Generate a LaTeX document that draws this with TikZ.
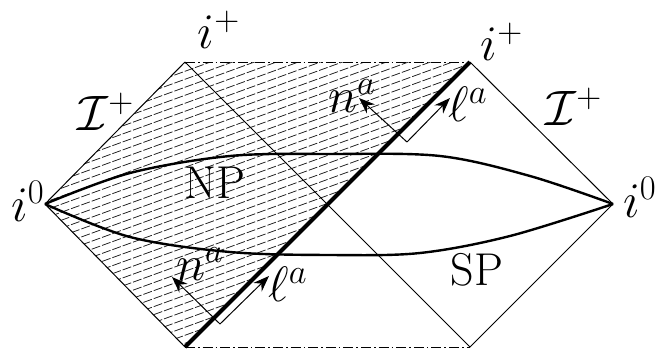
\documentclass[tikz,border=0pt]{standalone}
\usepackage{amsmath, amssymb}
\usetikzlibrary{arrows.meta, calc}

\begin{document}
\begin{tikzpicture}[x=0.5pt, y=-0.5pt,
    edge/.style={line width=0.5pt},
    horizon/.style={line width=2pt},
    slice/.style={line width=1.2pt},
    scri/.style={line width=0.5pt, dash pattern=on 5pt off 1.5pt on 0.8pt off 1.5pt},
    hatch/.style={line width=0.4pt, black!85, dash pattern=on 4.5pt off 1pt},
    vec/.style={line width=0.5pt, -{Stealth[length=8pt, width=6pt]}},
    lbl/.style={font=\fontsize{23}{27}\selectfont, inner sep=0pt}]
  \useasboundingbox (0,0) rectangle (660,349);

  % corners of the diagram
  \coordinate (L) at (45,204);
  \coordinate (R) at (613,204);
  \coordinate (TL) at (185,62);
  \coordinate (BL) at (185,347);
  \coordinate (TR) at (470,62);
  \coordinate (BR) at (470,347);

  % hatched region
  \begin{scope}
    \clip (L) -- (TL) -- (TR) -- (BL) -- cycle;
    \foreach \y in {60,68,...,620}
      \draw[hatch] (40,\y) -- (480,\y-160);
  \end{scope}

  \draw[edge] (TL) -- (L) -- (BL);
  \draw[edge] (TL) -- (BR) -- (R) -- (TR);
  \draw[horizon] (BL) -- (TR);
  \draw[scri] (TL) -- (TR);
  \draw[scri] (BL) -- (BR);

  % the two slices
  \draw[slice] plot[smooth, tension=0.55] coordinates {(L) (130,173) (230,156) (330,154) (440,156) (530,176) (R)};
  \draw[slice] plot[smooth, tension=0.55] coordinates {(L) (130,237) (230,252) (330,255) (420,253) (510,236) (R)};

  % null vectors
  \coordinate (cu) at (407,142);
  \coordinate (lu) at (450,98);
  \coordinate (nu) at (359,98);
  \draw[vec] (cu) -- (lu);
  \draw[vec] (cu) -- (nu);
  \coordinate (cl) at (220,324);
  \coordinate (ll) at (269,276);
  \coordinate (nl) at (172,277);
  \draw[vec] (cl) -- (ll);
  \draw[vec] (cl) -- (nl);

  \node[lbl] (ipl) at (219,30) {$i^+$};
  \node[lbl] (ipr) at (502,42) {$i^+$};
  \node[lbl] (scril) at (106,112) {$\mathcal{I}^+$};
  \node[lbl] (scrir) at (574,107) {$\mathcal{I}^+$};
  \node[lbl] (i0l) at (28,201) {$i^0$};
  \node[lbl] (i0r) at (640,197) {$i^0$};
  \node[lbl] (np) at (215,183) {NP};
  \node[lbl] (sp) at (477,270) {SP};
  \node[lbl] (nau) at (352,96) {$n^a$};
  \node[lbl] (lau) at (468,104) {$\ell^a$};
  \node[lbl] (nal) at (200,264) {$n^a$};
  \node[lbl] (lal) at (288,284) {$\ell^a$};
\end{tikzpicture}
\end{document}
